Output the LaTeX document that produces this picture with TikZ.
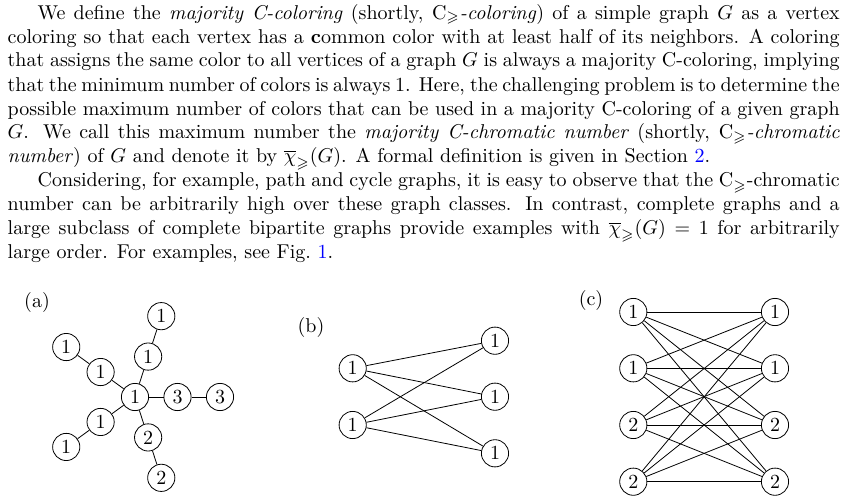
\documentclass[tikz,border=0pt]{standalone}
\usepackage{amssymb}
\usepackage{tikz}
\usetikzlibrary{calc}

\begin{document}
\begin{tikzpicture}[x=0.5pt, y=-0.5pt,
    vtx/.style={draw, circle, inner sep=0pt, minimum size=13.6pt},
    sublabel/.style={inner sep=0pt}]
  \useasboundingbox (0,0) rectangle (848,503);
  % running text
  \node[anchor=base west, inner sep=0pt] (txt) at (7.3,19) {\parbox[t]{416pt}{\setlength{\parindent}{15pt}%
    We define the \emph{majority C-coloring} (shortly, $\mathrm{C}_{\geqslant}$\emph{-coloring}) of a simple graph $G$ as a vertex\linebreak
    coloring so that each vertex has a \textbf{c}ommon color with at least half of its neighbors. A coloring\linebreak
    that assigns the same color to all vertices of a graph $G$ is always a majority C-coloring, implying\linebreak
    that the minimum number of colors is always 1. Here, the challenging problem is to determine the\linebreak
    possible maximum number of colors that can be used in a majority C-coloring of a given graph\linebreak
    $G$. We call this maximum number the \emph{majority C-chromatic number} (shortly, $\mathrm{C}_{\geqslant}$\emph{-chromatic}\linebreak
    \emph{number}) of $G$ and denote it by $\overline{\chi}_{\geqslant}(G)$. A formal definition is given in Section~\textcolor{blue}{2}.\par
    Considering, for example, path and cycle graphs, it is easy to observe that the $\mathrm{C}_{\geqslant}$-chromatic\linebreak
    number can be arbitrarily high over these graph classes. In contrast, complete graphs and a\linebreak
    large subclass of complete bipartite graphs provide examples with $\overline{\chi}_{\geqslant}(G) = 1$ for arbitrarily\linebreak
    large order. For examples, see Fig.~\textcolor{blue}{1}.}};

  % (a) star with five arms
  \node[sublabel] (la) at (37,302) {(a)};
  \node[vtx] (c) at (135,397) {1};
  \foreach \k/\lab in {0/3,1/1,2/1,3/1,4/2}{
    \node[vtx] (a\k1) at ($(c)+(-72*\k:42.5)$) {\lab};
    \node[vtx] (a\k2) at ($(c)+(-72*\k:85)$) {\lab};
    \draw (c) -- (a\k1) -- (a\k2);
  }

  % (b) K_{2,3}
  \node[sublabel] (lb) at (311,327) {(b)};
  \node[vtx] (b1) at (352.7,368.3) {1};
  \node[vtx] (b2) at (352.7,425) {1};
  \node[vtx] (r1) at (495,340.7) {1};
  \node[vtx] (r2) at (495,396.7) {1};
  \node[vtx] (r3) at (495,453.3) {1};
  \foreach \i in {1,2}
    \foreach \j in {1,2,3}
      \draw (b\i) -- (r\j);

  % (c) K_{4,4}
  \node[sublabel] (lc) at (591,300) {(c)};
  \foreach \i/\y/\lab in {1/312/1,2/368.3/1,3/425/2,4/481.7/2}{
    \node[vtx] (u\i) at (633.3,\y) {\lab};
    \node[vtx] (v\i) at (775,\y) {\lab};
  }
  \foreach \i in {1,...,4}
    \foreach \j in {1,...,4}
      \draw (u\i) -- (v\j);
\end{tikzpicture}
\end{document}
